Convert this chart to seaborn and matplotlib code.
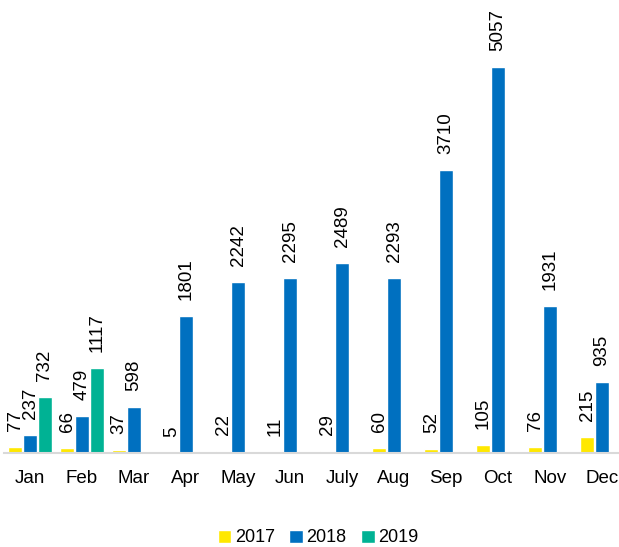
import numpy as np
import pandas as pd
import matplotlib
matplotlib.use("Agg")
import matplotlib.pyplot as plt
import seaborn as sns

months = ["Jan", "Feb", "Mar", "Apr", "May", "Jun", "July", "Aug", "Sep", "Oct", "Nov", "Dec"]
years = ["2017", "2018", "2019"]
v2017 = [77, 66, 37, 5, 22, 11, 29, 60, 52, 105, 76, 215]
v2018 = [237, 479, 598, 1801, 2242, 2295, 2489, 2293, 3710, 5057, 1931, 935]
v2019 = [732, 1117, None, None, None, None, None, None, None, None, None, None]
colors = ["#FFE800", "#0070C0", "#00B294"]

rows = []
for yr, vals in zip(years, [v2017, v2018, v2019]):
    for m, v in zip(months, vals):
        if v is not None:
            rows.append({"month": m, "year": yr, "value": v})
df = pd.DataFrame(rows)

sns.set_theme(style="white")
plt.rcParams["font.family"] = ["Liberation Sans", "DejaVu Sans"]

fig = plt.figure(figsize=(6.19, 5.47), dpi=100)
ax = fig.add_axes([4 / 619, 94 / 547, 624 / 619, 453 / 547])

sns.barplot(data=df, x="month", y="value", hue="year", order=months, hue_order=years,
            palette=colors, width=0.85, gap=0.08, saturation=1, ax=ax, legend=True)

for cont in ax.containers:
    ax.bar_label(cont, labels=[f"{int(v)}" for v in cont.datavalues], rotation=90,
                 padding=11.5, fontsize=13.5, color="#000000")

ax.set_xlim(-0.5, 11.5)
ax.set_ylim(0, 453 / 386 * 5057)
ax.set_xlabel("")
ax.set_ylabel("")
ax.set_yticks([])
for s in ["top", "right", "left"]:
    ax.spines[s].set_visible(False)
ax.spines["bottom"].set_color("#D9D9D9")
ax.spines["bottom"].set_linewidth(1.5)
ax.tick_params(axis="x", length=0, pad=12, labelsize=13.5, labelcolor="#000000")

handles, labels = ax.get_legend_handles_labels()
ax.legend(handles, labels, loc="center", bbox_to_anchor=(318 / 619, 1 - 538 / 547),
          bbox_transform=fig.transFigure, ncol=3, frameon=False, fontsize=13,
          handlelength=0.75, handleheight=0.75, handletextpad=0.2, columnspacing=0.8,
          labelcolor="#000000")

fig.savefig("out.png", dpi=100)
